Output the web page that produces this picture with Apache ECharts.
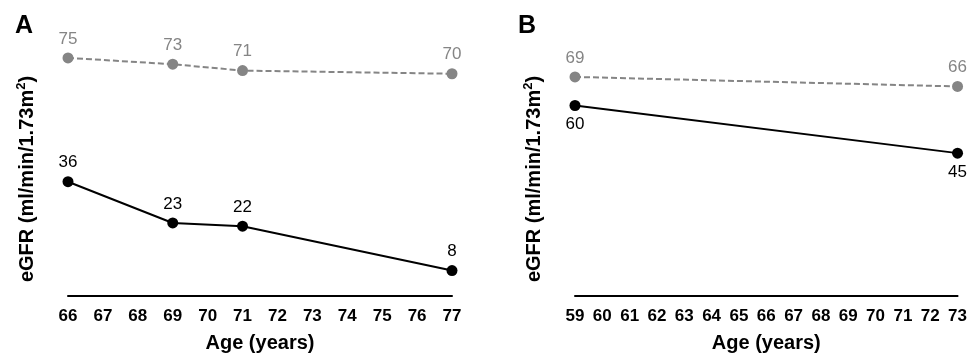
<!DOCTYPE html>
<html>
<head>
<meta charset="utf-8">
<script src="https://cdn.jsdelivr.net/npm/echarts@6/dist/echarts.min.js"></script>
<style>
  html, body { margin: 0; padding: 0; background: #fff; }
  #chart { width: 970px; height: 358px; }
</style>
</head>
<body>
<div id="chart"></div>
<script>
// panel A
const agesA = [66, 69, 71, 77];
const grayA = [75, 73, 71, 70];
const blackA = [36, 23, 22, 8];
// panel B
const agesB = [59, 73];
const grayB = [69, 66];
const blackB = [60, 45];

const FONT = 'Liberation Sans, Arial, sans-serif';
const GRAY = '#858585';

const pairs = (xs, ys) => xs.map((x, i) => [x, ys[i]]);

const xAxisFor = (idx, min, max) => ({
	type: 'value',
	gridIndex: idx,
	min: min,
	max: max,
	interval: 1,
	name: 'Age (years)',
	nameLocation: 'middle',
	nameGap: 37,
	nameTextStyle: { fontFamily: FONT, fontSize: 20, fontWeight: 'bold', color: '#000' },
	axisLine: { lineStyle: { color: '#000', width: 2 } },
	axisTick: { show: false },
	splitLine: { show: false },
	axisLabel: { fontFamily: FONT, fontSize: 17, fontWeight: 'bold', color: '#000', margin: 12 },
});

const yAxisFor = (idx) => ({
	type: 'value',
	gridIndex: idx,
	min: 0,
	max: 80,
	name: '{a|eGFR (ml/min/1.73m}{s|2}{a|)}',
	nameLocation: 'middle',
	nameGap: 29,
	nameRotate: 90,
	nameTextStyle: {
		padding: [0, 20, 0, 0],
		rich: {
			a: { fontFamily: FONT, fontSize: 20, fontWeight: 'bold', color: '#000', lineHeight: 24 },
			s: { fontFamily: FONT, fontSize: 13, fontWeight: 'bold', color: '#000', verticalAlign: 'top', lineHeight: 24, padding: [0, 0, 10, 0] },
		},
	},
	axisLine: { show: false },
	axisTick: { show: false },
	axisLabel: { show: false },
	splitLine: { show: false },
});

const seriesFor = (idx, data, color, dashed, labelPos) => ({
	type: 'line',
	xAxisIndex: idx,
	yAxisIndex: idx,
	data: data,
	symbol: 'circle',
	symbolSize: 11,
	itemStyle: { color: color },
	lineStyle: { color: color, width: 2, type: dashed ? [6, 3] : 'solid' },
	label: {
		show: true,
		position: labelPos,
		distance: 5,
		fontFamily: FONT,
		fontSize: 17,
		color: color,
		formatter: (p) => p.value[1],
	},
	silent: true,
	animation: false,
});

const chart = echarts.init(document.getElementById('chart'), null, { renderer: 'canvas' });

chart.setOption({
	backgroundColor: '#fff',
	animation: false,
	title: [
		{ text: 'A', left: 10, top: 9, textStyle: { fontFamily: FONT, fontSize: 25, fontWeight: 'bold', color: '#000' } },
		{ text: 'B', left: 513, top: 9, textStyle: { fontFamily: FONT, fontSize: 25, fontWeight: 'bold', color: '#000' } },
	],
	grid: [
		{ left: 68, right: 518, top: 42, bottom: 60 },
		{ left: 575, right: 12, top: 42, bottom: 60 },
	],
	xAxis: [xAxisFor(0, 66, 77), xAxisFor(1, 59, 73)],
	yAxis: [yAxisFor(0), yAxisFor(1)],
	series: [
		seriesFor(0, pairs(agesA, grayA), GRAY, true, 'top'),
		seriesFor(0, pairs(agesA, blackA), '#000', false, 'top'),
		seriesFor(1, pairs(agesB, grayB), GRAY, true, 'top'),
		seriesFor(1, pairs(agesB, blackB), '#000', false, 'bottom'),
	],
});
</script>
</body>
</html>
